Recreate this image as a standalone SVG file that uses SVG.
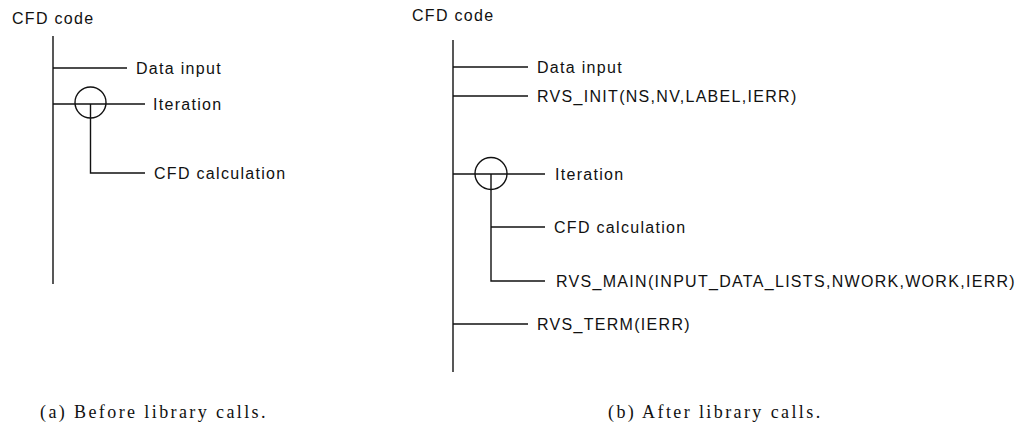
<svg xmlns="http://www.w3.org/2000/svg" width="1028" height="437" viewBox="0 0 1028 437">
<style>
.ln{stroke:#111;stroke-width:1.4;fill:none}
.t{font-family:"Liberation Sans",Arial,sans-serif;font-size:16px;letter-spacing:1.3px;fill:#111}
.c{font-family:"Liberation Serif","Times New Roman",serif;font-size:18px;letter-spacing:2.4px;fill:#111}
</style>
<rect width="1028" height="437" fill="#fff"/>
<g id="connectors">
<line class="ln" x1="53" y1="36" x2="53" y2="284"/>
<line class="ln" x1="53" y1="68" x2="127" y2="68"/>
<line class="ln" x1="53" y1="104" x2="145" y2="104"/>
<circle class="ln" cx="90.5" cy="102.5" r="15.5"/>
<polyline class="ln" points="90.5,104 90.5,173 145,173"/>
<line class="ln" x1="453" y1="40" x2="453" y2="372"/>
<line class="ln" x1="453" y1="67" x2="528" y2="67"/>
<line class="ln" x1="453" y1="96" x2="528" y2="96"/>
<line class="ln" x1="453" y1="174" x2="545" y2="174"/>
<circle class="ln" cx="491" cy="173.5" r="16"/>
<polyline class="ln" points="491,174 491,281 545,281"/>
<line class="ln" x1="491" y1="227" x2="545" y2="227"/>
<line class="ln" x1="453" y1="324" x2="528" y2="324"/>
</g>
<g id="a-root"><text class="t" x="12" y="24">CFD code</text></g>
<g id="a-data"><text class="t" x="136" y="74">Data input</text></g>
<g id="a-iter"><text class="t" x="153" y="110">Iteration</text></g>
<g id="a-calc"><text class="t" x="154" y="179">CFD calculation</text></g>
<g id="b-root"><text class="t" x="412" y="21">CFD code</text></g>
<g id="b-data"><text class="t" x="537" y="73">Data input</text></g>
<g id="b-init"><text class="t" x="537" y="102">RVS_INIT(NS,NV,LABEL,IERR)</text></g>
<g id="b-iter"><text class="t" x="555" y="180">Iteration</text></g>
<g id="b-calc"><text class="t" x="554" y="233">CFD calculation</text></g>
<g id="b-main"><text class="t" x="556" y="287">RVS_MAIN(INPUT_DATA_LISTS,NWORK,WORK,IERR)</text></g>
<g id="b-term"><text class="t" x="537" y="330">RVS_TERM(IERR)</text></g>
<g id="captions">
<text class="c" x="40" y="418">(a) Before library calls.</text>
<text class="c" x="608" y="418">(b) After library calls.</text>
</g>
</svg>
